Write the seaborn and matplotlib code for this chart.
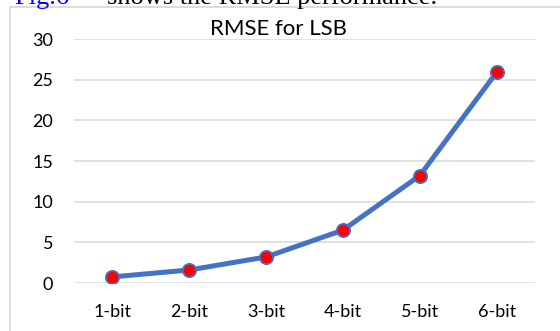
import matplotlib
matplotlib.use("Agg")
import matplotlib.pyplot as plt
from matplotlib.lines import Line2D
import seaborn as sns
import pandas as pd

bits = ["1-bit", "2-bit", "3-bit", "4-bit", "5-bit", "6-bit"]
rmse = [0.75, 1.6, 3.2, 6.5, 13.2, 25.9]
y_ticks = [0, 5, 10, 15, 20, 25, 30]

df = pd.DataFrame({"bits": bits, "rmse": rmse})

sns.set_style("white")
plt.rcParams["font.family"] = ["Lato", "DejaVu Sans"]

fig = plt.figure(figsize=(5.6, 3.31), dpi=100)
ax = fig.add_axes([74 / 560, 48 / 331, 461 / 560, 244 / 331])

sns.lineplot(data=df, x="bits", y="rmse", ax=ax, color="#4472C4", linewidth=3.6,
             marker="o", markersize=9.5, markerfacecolor="#FF0000",
             markeredgecolor="#4472C4", markeredgewidth=1.3, sort=False)

ax.set_xlim(-0.5, len(bits) - 0.5)
ax.set_ylim(0, 30)
ax.set_yticks(y_ticks)
ax.yaxis.grid(True, color="#D9D9D9", linewidth=1.1)
ax.set_axisbelow(True)
for s in ax.spines.values():
    s.set_visible(False)
ax.tick_params(axis="y", length=0, pad=15, labelsize=13, labelcolor="#000000")
ax.tick_params(axis="x", length=0, pad=15, labelsize=13, labelcolor="#000000")
ax.set_xlabel("")
ax.set_ylabel("")
ax.set_title("RMSE for LSB", fontsize=16, pad=3, color="#000000")
ax.title.set_position((0.443, 1.0))

# chart frame (left and top edges visible)
fig.add_artist(Line2D([10 / 560, 10 / 560], [0, 1 - 7 / 331], transform=fig.transFigure,
                      color="#D9D9D9", linewidth=1.3))
fig.add_artist(Line2D([10 / 560, 1], [1 - 7 / 331, 1 - 7 / 331], transform=fig.transFigure,
                      color="#D9D9D9", linewidth=1.3))

# surrounding document text, cut off at the top
fig.text(14 / 560, 1 - 4 / 331, "Fig.6", color="#0000FF", fontsize=19,
         family=["Liberation Serif"], va="baseline", ha="left")
fig.text(437 / 560, 1 - 4 / 331, "shows the RMSE performance.", color="#000000", fontsize=19,
         family=["Liberation Serif"], va="baseline", ha="right")

fig.savefig("out.png", dpi=100)
